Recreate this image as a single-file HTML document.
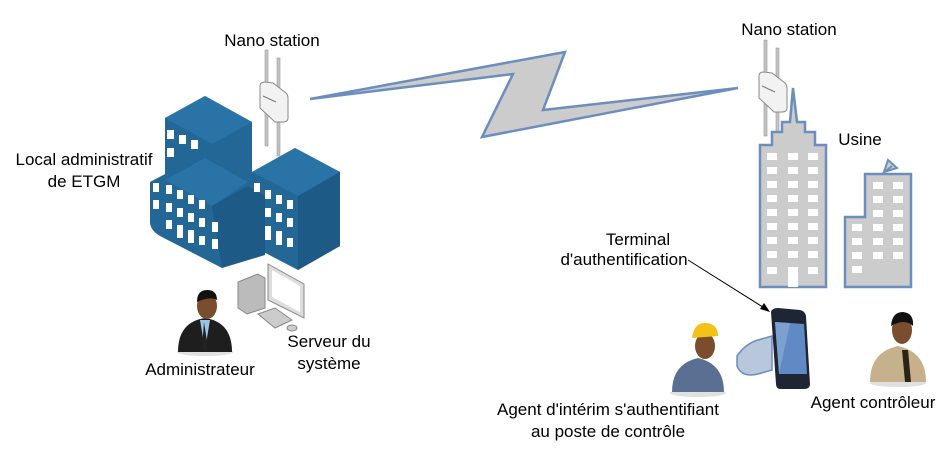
<!DOCTYPE html>
<html><head><meta charset="utf-8"><style>
html,body{margin:0;padding:0;background:#fff;}
svg{display:block;}
text{font-family:"Liberation Sans",sans-serif;font-size:17px;fill:#000;}
</style></head><body>
<svg width="949" height="451" viewBox="0 0 949 451" xmlns="http://www.w3.org/2000/svg">
<defs>
<g id="ant">
<rect x="-7" y="-34" width="3" height="96" fill="#c4c4c4" stroke="#999" stroke-width="0.6"/>
<rect x="5" y="-26" width="3" height="98" fill="#c4c4c4" stroke="#999" stroke-width="0.6"/>
<path d="M-12,2 Q-12,-2 -7,-2 L1,-1 L14,9 Q16,11 16,14 L16,34 Q16,38 11,38 L3,38 L-12,24 Z" fill="#f2f2f2" stroke="#8a8a8a"/>
<line x1="-9" y1="12" x2="4" y2="18" stroke="#777" stroke-width="1"/>
</g>
</defs>
<!-- lightning -->
<path d="M310,99 L565,52 L543,110 L738,88 L482,137 L513,74 Z" fill="#cccccc" stroke="#6c8ebf" stroke-width="2.5" stroke-linejoin="miter"/>
<!-- left buildings -->
<g fill="#236797">
<path d="M165,118 L205,96 L252,122 L252,182 L212,204 L165,180 Z"/>
<path d="M165,118 L205,96 L252,122 L212,144 Z" fill="#2a73a6"/>
<path d="M252,172 L295,148 L340,172 L340,246 L298,270 L252,246 Z"/>
<path d="M252,172 L295,148 L340,172 L298,196 Z" fill="#2a73a6"/>
<path d="M150,182 L205,153 L255,180 L255,248 L222,268 L160,236 Q150,230 150,222 Z"/>
<path d="M165,180 L205,158 L248,182 L212,206 Z" fill="#2a73a6"/>
<path d="M212,206 L248,186 L265,196 L265,255 L222,268 Z" fill="#1d5a85"/>
<path d="M298,196 L340,172 L340,246 L298,270 Z" fill="#1d5a85"/>
</g>
<g fill="#fff">
<rect x="167" y="130" width="7" height="9"/><rect x="179" y="135" width="7" height="9"/><rect x="191" y="140" width="7" height="9"/>
<rect x="167" y="148" width="7" height="9"/>
<rect x="153" y="183" width="6" height="9"/><rect x="153" y="200" width="6" height="9"/>
<rect x="166" y="185" width="6" height="9"/><rect x="177" y="190" width="6" height="9"/><rect x="188" y="195" width="6" height="9"/><rect x="199" y="200" width="6" height="9"/>
<rect x="166" y="203" width="6" height="9"/><rect x="177" y="208" width="6" height="9"/><rect x="188" y="213" width="6" height="9"/><rect x="199" y="218" width="6" height="9"/>
<rect x="166" y="220" width="6" height="9"/><rect x="177" y="225" width="6" height="13"/><rect x="188" y="230" width="6" height="13"/><rect x="199" y="236" width="6" height="9"/>
<rect x="212" y="222" width="6" height="10"/><rect x="212" y="239" width="6" height="10"/>
<rect x="254" y="183" width="6" height="9"/>
<rect x="265" y="190" width="6" height="9"/><rect x="276" y="195" width="6" height="9"/><rect x="287" y="200" width="6" height="9"/>
<rect x="265" y="208" width="6" height="9"/><rect x="276" y="213" width="6" height="9"/><rect x="287" y="218" width="6" height="9"/>
<rect x="265" y="226" width="6" height="14"/><rect x="276" y="231" width="6" height="14"/><rect x="287" y="238" width="6" height="9"/>
</g>
<use href="#ant" x="272" y="84"/>
<use href="#ant" x="771" y="74"/>
<!-- right buildings -->
<path d="M760,145 L772,145 L772,132 L782,132 L782,122 L790,122 L793,88 L797,122 L805,122 L805,132 L815,132 L815,145 L826,145 L826,287 L760,287 Z" fill="#cccccc" stroke="#6c8ebf" stroke-width="2.5"/>
<path d="M845,217 L865,217 L865,174 L911,174 L911,287 L845,287 Z" fill="#cccccc" stroke="#6c8ebf" stroke-width="2.5"/>
<path d="M884,172 L888,160 L897,168 Z M882,174 L892,166" fill="#ccc" stroke="#6c8ebf" stroke-width="2"/>
<g fill="#fff">
<g id="wc"><rect x="767" y="153" width="10" height="7"/><rect x="788" y="153" width="10" height="7"/><rect x="808" y="153" width="10" height="7"/></g>
<use href="#wc" y="14"/><use href="#wc" y="28"/><use href="#wc" y="42"/><use href="#wc" y="56"/><use href="#wc" y="70"/><use href="#wc" y="84"/><use href="#wc" y="98"/>
<rect x="767" y="267" width="10" height="7"/><rect x="788" y="267" width="10" height="20"/><rect x="808" y="267" width="10" height="7"/>
<g id="wd"><rect x="873" y="182" width="10" height="7"/><rect x="893" y="182" width="10" height="7"/></g>
<use href="#wd" y="14"/><use href="#wd" y="28"/><use href="#wd" y="42"/><use href="#wd" y="56"/><use href="#wd" y="70"/>
<rect x="852" y="224" width="10" height="7"/><rect x="852" y="238" width="10" height="7"/><rect x="852" y="252" width="10" height="7"/><rect x="852" y="266" width="10" height="7"/>
</g>
<!-- computer -->
<path d="M238,282 L258,274 L265,278 L265,308 L247,314 L238,308 Z" fill="#bbb" stroke="#888"/>
<path d="M268,264 L304,284 L304,318 L268,300 Z" fill="#ddd" stroke="#888"/>
<path d="M272,270 L300,286 L300,312 L272,297 Z" fill="#fff"/>
<path d="M258,314 L275,308 L292,320 L275,328 Z" fill="#ccc" stroke="#888"/>
<ellipse cx="292" cy="328" rx="5" ry="3" fill="#ccc" stroke="#888"/>
<!-- admin -->
<ellipse cx="205" cy="352" rx="28" ry="4" fill="#ccc" opacity="0.6"/>
<path d="M178,352 Q178,322 205,318 Q232,322 232,352 Z" fill="#1e1e1e"/>
<path d="M200,320 L205,350 L210,320 Z" fill="#9cc4e4"/>
<path d="M204,322 L202,348 L206,352 L208,348 Z" fill="#222"/>
<ellipse cx="207" cy="306" rx="10" ry="13" fill="#7a4e2d"/>
<path d="M197,302 Q197,290 207,290 Q217,290 217,300 Q210,296 197,302 Z" fill="#111"/>
<!-- worker -->
<ellipse cx="698" cy="393" rx="28" ry="4" fill="#ccc" opacity="0.6"/>
<path d="M672,392 Q672,364 698,358 Q724,364 724,392 Z" fill="#5b6f93"/>
<ellipse cx="705" cy="346" rx="10" ry="13" fill="#7a4e2d"/>
<path d="M692,338 Q694,322 706,323 Q718,324 718,336 Z" fill="#f2c218"/>
<!-- hand -->
<path d="M737,356 Q745,344 758,340 L772,336 L772,370 L758,374 Q742,378 737,366 Z" fill="#b8c7dc" stroke="#6c8ebf" stroke-width="1.5"/>
<!-- phone -->
<path d="M771,312 Q772,308 778,308 L800,310 Q805,311 806,316 L810,384 Q810,389 804,389 L781,389 Q776,389 776,384 Z" fill="#1e2633"/>
<path d="M775,322 L804,324 L807,374 L779,374 Z" fill="#5f8ac4"/>
<path d="M775,322 L790,323 L779,374 Z" fill="#8fb0d8" opacity="0.6"/>
<!-- guard -->
<ellipse cx="898" cy="383" rx="28" ry="4" fill="#ccc" opacity="0.6"/>
<path d="M870,382 Q870,352 898,346 Q926,352 926,382 Z" fill="#c7b08c"/>
<path d="M902,350 L905,382 L911,382 L908,350 Z" fill="#2b2218"/>
<ellipse cx="902" cy="330" rx="10" ry="14" fill="#7a4e2d"/>
<path d="M891,326 Q892,312 903,312 Q914,313 913,326 Q905,318 891,326 Z" fill="#111"/>
<!-- arrow -->
<line x1="688" y1="260" x2="766" y2="309" stroke="#000" stroke-width="1"/>
<path d="M770,312 L760,309 L764,303 Z" fill="#000"/>
<!-- labels -->
<text x="272" y="46" text-anchor="middle">Nano station</text>
<text x="789" y="35" text-anchor="middle">Nano station</text>
<text x="84" y="165" text-anchor="middle">Local administratif</text>
<text x="84" y="187" text-anchor="middle">de ETGM</text>
<text x="860" y="145" text-anchor="middle">Usine</text>
<text x="638" y="245" text-anchor="middle">Terminal</text>
<text x="624" y="265" text-anchor="middle">d'authentification</text>
<text x="329" y="347" text-anchor="middle">Serveur du</text>
<text x="329" y="369" text-anchor="middle">système</text>
<text x="200" y="375" text-anchor="middle">Administrateur</text>
<text x="608" y="415" text-anchor="middle">Agent d'intérim s'authentifiant</text>
<text x="608" y="437" text-anchor="middle">au poste de contrôle</text>
<text x="873" y="408" text-anchor="middle">Agent contrôleur</text>
</svg>
</body></html>
